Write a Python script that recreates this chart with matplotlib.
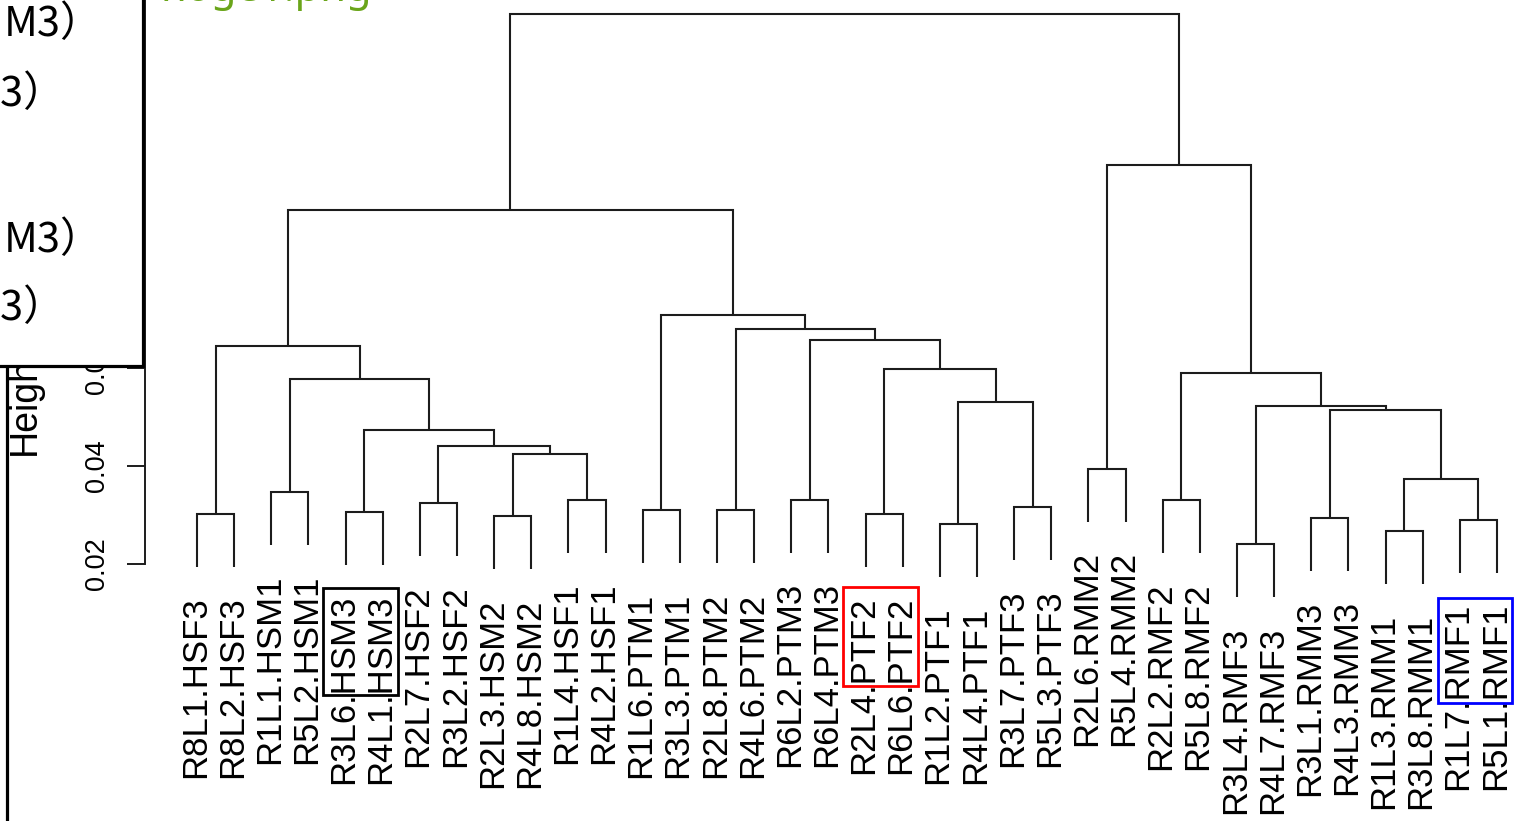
import matplotlib
matplotlib.use("Agg")
import matplotlib.pyplot as plt
from matplotlib.patches import Rectangle

# ---------------- data ----------------
leaf_labels = [
    "R8L1.HSF3", "R8L2.HSF3", "R1L1.HSM1", "R5L2.HSM1", "R3L6.HSM3", "R4L1.HSM3",
    "R2L7.HSF2", "R3L2.HSF2", "R2L3.HSM2", "R4L8.HSM2", "R1L4.HSF1", "R4L2.HSF1",
    "R1L6.PTM1", "R3L3.PTM1", "R2L8.PTM2", "R4L6.PTM2", "R6L2.PTM3", "R6L4.PTM3",
    "R2L4.PTF2", "R6L6.PTF2", "R1L2.PTF1", "R4L4.PTF1", "R3L7.PTF3", "R5L3.PTF3",
    "R2L6.RMM2", "R5L4.RMM2", "R2L2.RMF2", "R5L8.RMF2", "R3L4.RMF3", "R4L7.RMF3",
    "R3L1.RMM3", "R4L3.RMM3", "R1L3.RMM1", "R3L8.RMM1", "R1L7.RMF1", "R5L1.RMF1",
]
# R-style merge table: negative = leaf (1-based, display order), positive = earlier merge
merge_left = [-1, -3, -5, -7, -9, -11, -13, -15, -17, -19, -21, -23, -25, -27, -29, -31, -33, -35,
              5, 4, 3, 2, 1, 11, 10, 9, 8, 7, 23, 17, 16, 15, 14, 13, 29]
merge_right = [-2, -4, -6, -8, -10, -12, -14, -16, -18, -20, -22, -24, -26, -28, -30, -32, -34, -36,
               6, 19, 20, 21, 22, 12, 24, 25, 26, 27, 28, 18, 30, 31, 32, 33, 34]
merge_height = [0.0302, 0.0347, 0.0306, 0.0324, 0.0298, 0.0331, 0.0310, 0.0310, 0.0331,
                0.0302, 0.0282, 0.0316, 0.0394, 0.0331, 0.0241, 0.0294, 0.0267, 0.0290,
                0.0424, 0.0441, 0.0473, 0.0578, 0.0645, 0.0531, 0.0598, 0.0657, 0.0680,
                0.0708, 0.0922, 0.0373, 0.0514, 0.0522, 0.0590, 0.1014, 0.1322]
y_ticks = [0.02, 0.04, 0.06, 0.08, 0.10, 0.12, 0.14]
y_tick_labels = ["0.02", "0.04", "0.06", "0.08", "0.10", "0.12", "0.14"]
y_label = "Height"

# highlighted label pairs (first leaf index, last leaf index, colour)
highlight_first = [4, 18, 34]
highlight_last = [5, 19, 35]
highlight_color = ["#000000", "#ff0000", "#0000ff"]
highlight_top = [0.0151, 0.0153, 0.0131]
highlight_bottom = [-0.0067, -0.0049, -0.0084]

legend_lines = ["M3）", "F3）", "M3）", "F3）"]
file_caption = "hoge1.png"

# ---------------- layout ----------------
W, H = 1516, 821
fig = plt.figure(figsize=(W / 100, H / 100), dpi=100)
fig.patch.set_facecolor("white")
ax = fig.add_axes([0, 0, 1, 1])
ax.patch.set_alpha(0)

hang = 0.1 * (max(merge_height) - min(merge_height))
line_kw = dict(color="#1c1c1c", lw=1.5, solid_capstyle="butt", solid_joinstyle="miter")

node_x = {}
leaf_bottom = {}
for k, (a, b, h) in enumerate(zip(merge_left, merge_right, merge_height), start=1):
    pts = []
    for c in (a, b):
        if c < 0:
            xi = -c - 1
            yb = h - hang
            leaf_bottom[xi] = yb
            pts.append((xi, yb))
        else:
            pts.append((node_x[c], merge_height[c - 1]))
    (x1, y1), (x2, y2) = pts
    ax.plot([x1, x1, x2, x2], [y1, h, h, y2], **line_kw)
    node_x[k] = (x1 + x2) / 2

label_font = dict(family=["Liberation Sans", "DejaVu Sans"], fontsize=25)
for i, lab in enumerate(leaf_labels):
    ax.text(i - 0.05, leaf_bottom[i] - 0.0060, lab, rotation=90, ha="center", va="top",
            color="black", **label_font)

for f, l, c, t, b in zip(highlight_first, highlight_last, highlight_color, highlight_top, highlight_bottom):
    ax.add_patch(Rectangle((f - 0.6, b), (l + 0.4) - (f - 0.6), t - b, fill=False,
                           edgecolor=c, lw=2.0, zorder=4))

# y axis (R style)
for s in ("top", "right", "bottom"):
    ax.spines[s].set_visible(False)
ax.spines["left"].set_position(("data", -1.40))
ax.spines["left"].set_bounds(y_ticks[0], y_ticks[-1])
ax.spines["left"].set_linewidth(1.4)
ax.spines["left"].set_color("#1c1c1c")
ax.set_xticks([])
ax.set_yticks(y_ticks)
ax.set_yticklabels(y_tick_labels, rotation=90, va="center",
                   family=["Liberation Sans", "DejaVu Sans"], fontsize=19.5)
ax.tick_params(axis="y", length=13, width=1.4, pad=12, color="#1c1c1c")
ax.text(-4.36, 0.0422, y_label, rotation=90, rotation_mode="anchor", ha="left",
        va="baseline", family=["Liberation Sans", "DejaVu Sans"], fontsize=27)
# limits last, so the tick list does not widen them
ax.set_xlim(-5.304, 35.512)
ax.set_ylim(-0.03245, 0.1351)

# ---------------- screenshot overlay ----------------
ov = fig.add_axes([0, 0, 1, 1], zorder=5)
ov.set_xlim(0, W)
ov.set_ylim(H, 0)
ov.axis("off")
ov.patch.set_alpha(0)

ov.add_patch(Rectangle((-10, -10), 152.5, 376.5, facecolor="white", edgecolor="black", lw=2.3))
ov.plot([6.5, 6.5], [366.5, H + 5], color="black", lw=2.3, solid_capstyle="butt")

cjk = ["Noto Sans CJK JP", "DejaVu Sans"]
leg_x = [3.5, -22, 3.5, -22]
leg_y = [36.5, 106.5, 251.5, 320.5]
for t, x, y in zip(legend_lines, leg_x, leg_y):
    ov.text(x, y, t, ha="left", va="baseline", family=cjk, fontsize=30, color="black")

ov.text(160, 1, file_caption, ha="left", va="baseline", family=["Noto Sans", "DejaVu Sans"],
        fontsize=30, color="#6aa51a")

fig.savefig("out.png", dpi=100)
